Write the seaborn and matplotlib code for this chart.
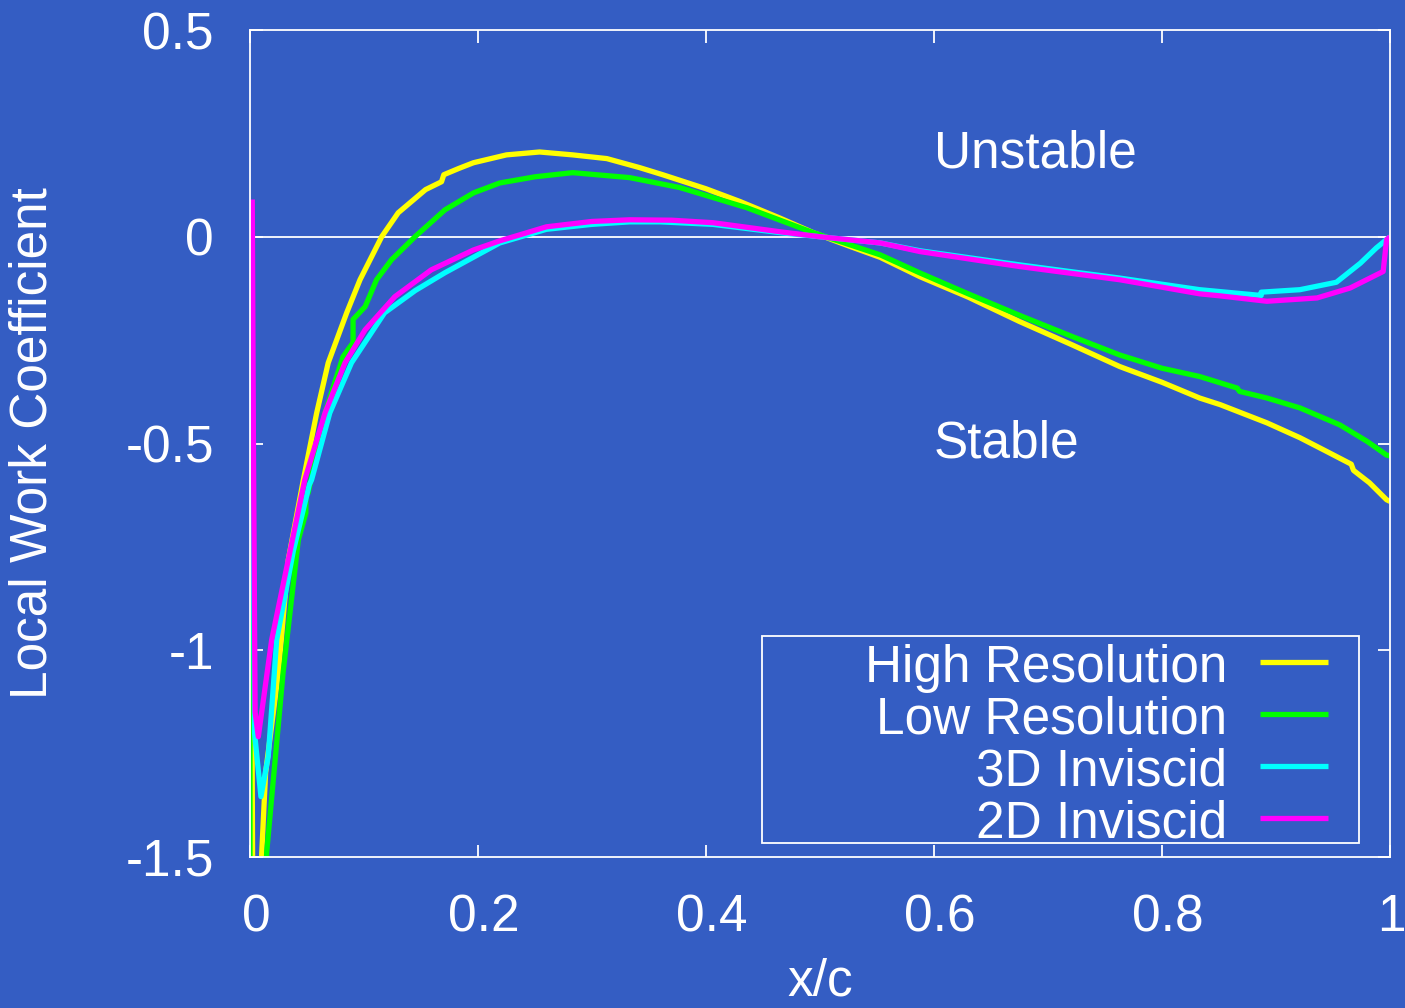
import matplotlib
matplotlib.use('Agg')
import matplotlib.pyplot as plt
import pandas as pd
import seaborn as sns
from matplotlib.patches import Rectangle
from matplotlib.transforms import ScaledTranslation

series = ['High Resolution', 'Low Resolution', '3D Inviscid', '2D Inviscid']
colors = ['#ffff00', '#00ff00', '#00ffff', '#ff00ff']

# values (x/c, local work coefficient)
high_x = [0.0, 0.003, 0.0103, 0.0137, 0.0249, 0.0336, 0.0468, 0.0585, 0.0686, 0.0848,
          0.0965, 0.1155, 0.130, 0.154, 0.168, 0.170, 0.183, 0.196, 0.225, 0.254,
          0.283, 0.313, 0.342, 0.362, 0.40, 0.43, 0.465, 0.494, 0.525, 0.553,
          0.588, 0.63, 0.675, 0.72, 0.763, 0.80, 0.833, 0.851, 0.892, 0.921,
          0.945, 0.966, 0.968, 0.982, 0.997, 1.0]
high_y = [0.0, -2.0, -1.49, -1.296, -1.055, -0.781, -0.588, -0.426, -0.305, -0.184,
          -0.104, 0.0, 0.058, 0.114, 0.133, 0.15, 0.165, 0.179, 0.198, 0.205,
          0.198, 0.189, 0.167, 0.150, 0.116, 0.085, 0.045, 0.01, -0.022, -0.05,
          -0.097, -0.146, -0.205, -0.26, -0.314, -0.352, -0.39, -0.406, -0.45, -0.486,
          -0.52, -0.55, -0.565, -0.595, -0.636, -0.64]

low_x = [0.0, 0.0, 0.006, 0.0146, 0.029, 0.0424, 0.049, 0.049, 0.051, 0.0658,
         0.0816, 0.0904, 0.0904, 0.101, 0.111, 0.124, 0.1447, 0.171, 0.196, 0.219,
         0.25, 0.283, 0.333, 0.377, 0.436, 0.494, 0.553, 0.588, 0.63, 0.675,
         0.72, 0.763, 0.80, 0.833, 0.866, 0.868, 0.892, 0.921, 0.956, 0.98,
         0.997, 1.0]
low_y = [0.0, -1.7, -2.2, -1.49, -1.055, -0.733, -0.668, -0.63, -0.619, -0.426,
         -0.29, -0.256, -0.2, -0.169, -0.104, -0.056, 0.0, 0.065, 0.106, 0.13,
         0.145, 0.155, 0.143, 0.119, 0.07, 0.01, -0.044, -0.088, -0.138, -0.19,
         -0.24, -0.286, -0.318, -0.338, -0.366, -0.374, -0.39, -0.414, -0.455, -0.495,
         -0.528, -0.53]

inv3_x = [0.0015, 0.004, 0.0096, 0.016, 0.0234, 0.038, 0.052, 0.054, 0.070, 0.089,
          0.118, 0.145, 0.171, 0.219, 0.26, 0.30, 0.333, 0.36, 0.406, 0.465,
          0.50, 0.553, 0.588, 0.675, 0.763, 0.833, 0.887, 0.887, 0.921, 0.953,
          0.974, 0.988, 1.0]
inv3_y = [-0.1, -1.2, -1.354, -1.257, -0.975, -0.76, -0.6, -0.588, -0.426, -0.305,
          -0.184, -0.13, -0.087, -0.015, 0.018, 0.03, 0.036, 0.036, 0.03, 0.01,
          0.0, -0.015, -0.034, -0.068, -0.1, -0.128, -0.142, -0.134, -0.128, -0.11,
          -0.064, -0.027, 0.0]

inv2_x = [0.002, 0.003, 0.0045, 0.0073, 0.019, 0.0336, 0.048, 0.0658, 0.0833, 0.101,
          0.127, 0.159, 0.196, 0.219, 0.26, 0.30, 0.333, 0.37, 0.406, 0.465,
          0.50, 0.553, 0.588, 0.675, 0.763, 0.833, 0.851, 0.892, 0.936, 0.965,
          0.994, 0.997, 1.0]
inv2_y = [0.09, -0.5, -1.15, -1.209, -0.975, -0.781, -0.588, -0.426, -0.305, -0.225,
          -0.145, -0.08, -0.032, -0.01, 0.024, 0.037, 0.041, 0.04, 0.034, 0.012,
          0.0, -0.015, -0.036, -0.072, -0.104, -0.138, -0.143, -0.156, -0.148, -0.124,
          -0.084, -0.007, 0.0]

x_ticks = [0, 0.2, 0.4, 0.6, 0.8, 1]
x_tick_labels = ['0', '0.2', '0.4', '0.6', '0.8', '1']
y_ticks = [-1.5, -1, -0.5, 0, 0.5]
y_tick_labels = ['-1.5', '-1', '-0.5', '0', '0.5']

bg = '#345dc3'
fg = 'white'

plt.rcParams['font.family'] = ['Liberation Sans', 'DejaVu Sans']
plt.rcParams['font.size'] = 37
plt.rcParams['lines.solid_capstyle'] = 'butt'

frames = []
for name, xs, ys in zip(series, [high_x, low_x, inv3_x, inv2_x],
                        [high_y, low_y, inv3_y, inv2_y]):
    frames.append(pd.DataFrame({'x': xs, 'y': ys, 'series': name}))
df = pd.concat(frames, ignore_index=True)

fig = plt.figure(figsize=(14.05, 10.08), dpi=100, facecolor=bg)
ax = fig.add_axes([250 / 1405, 1 - 857 / 1008, 1140 / 1405, 827 / 1008])
ax.set_facecolor(bg)

ax.axhline(0, color=fg, lw=1.3, zorder=1)

sns.lineplot(data=df, x='x', y='y', hue='series', hue_order=series,
             palette=colors, estimator=None, sort=False, linewidth=3.8,
             legend=False, ax=ax)

ax.set_xlim(0, 1)
ax.set_ylim(-1.5, 0.5)
ax.set_xticks(x_ticks)
ax.set_xticklabels(x_tick_labels)
ax.set_yticks(y_ticks)
ax.set_yticklabels(y_tick_labels)
ax.tick_params(direction='in', length=9, width=1.3, colors=fg,
               top=True, right=True, pad=26)
# labels sit a little right of their ticks, last one kept inside the figure
xlabs = ax.get_xticklabels()
for i, lab in enumerate(xlabs):
    dx = 6 if i < len(xlabs) - 1 else 1
    lab.set_transform(lab.get_transform()
                      + ScaledTranslation(dx / 100, 0, fig.dpi_scale_trans))
for s in ax.spines.values():
    s.set_color(fg)
    s.set_linewidth(1.3)

ax.set_xlabel('x/c', color=fg)
ax.xaxis.set_label_coords(0.5, -0.121)
ax.set_ylabel('Local Work Coefficient', color=fg)
ax.yaxis.set_label_coords(-0.169, 0.5)

ax.text(0.6, 0.2, 'Unstable', color=fg, ha='left', va='center')
ax.text(0.6, -0.5, 'Stable', color=fg, ha='left', va='center')

# gnuplot style key: labels right aligned, sample lines on the right
ax.add_patch(Rectangle((0.449, 0.017), 0.524, 0.25, transform=ax.transAxes,
                       facecolor='none', edgecolor=fg, lw=1.3, zorder=5))
rows = [0.236, 0.173, 0.110, 0.047]
for name, c, ry in zip(series, colors, rows):
    ax.text(0.857, ry - 0.024, name, color=fg, ha='right', va='baseline',
            transform=ax.transAxes, zorder=6)
    ax.plot([0.886, 0.946], [ry, ry], color=c, lw=3.8, transform=ax.transAxes,
            zorder=6)

fig.savefig('out.png', dpi=100, facecolor=bg)
